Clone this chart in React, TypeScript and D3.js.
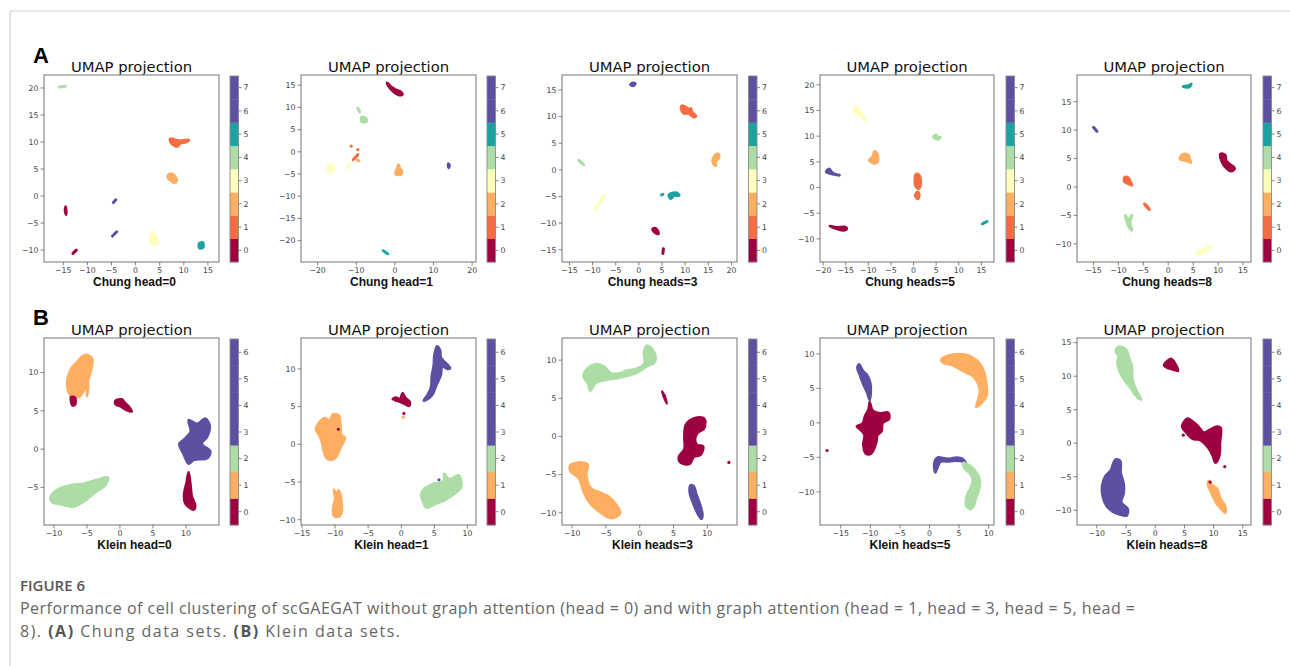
import React from "react";
import * as d3 from "d3";

// ---------- colours ----------
const chungColors = ["#9e0142", "#f46d43", "#fdae61", "#fefebd", "#abdda4", "#1aa3a0", "#5e4fa2", "#5e4fa2"];
const kleinColors = ["#9e0142", "#fdae61", "#abdda4", "#5e4fa2", "#5e4fa2", "#5e4fa2", "#5e4fa2"];

// ---------- panel titles / labels ----------
const xLabels = ["Chung head=0", "Chung head=1", "Chung heads=3", "Chung heads=5", "Chung heads=8",
  "Klein head=0", "Klein head=1", "Klein heads=3", "Klein heads=5", "Klein heads=8"];

// ---------- axis domains & ticks ----------
const xDomains: [number, number][] = [
  [-19, 17.3], [-24.3, 21], [-16.6, 21.2], [-20.7, 17.8], [-18.3, 16.6],
  [-11.5, 15.0], [-15.15, 11.3], [-11.5, 14.4], [-18.5, 10.9], [-13.4, 16.4],
];
const yDomains: [number, number][] = [
  [-12.2, 22.4], [-24.8, 17.3], [-17.3, 17.8], [-14.5, 21.9], [-13.2, 19.7],
  [-9.9, 14.5], [-10.7, 14.1], [-11.6, 12.9], [-14.8, 12.3], [-12.2, 15.7],
];
const xTicks: number[][] = [
  [-15, -10, -5, 0, 5, 10, 15], [-20, -10, 0, 10, 20], [-15, -10, -5, 0, 5, 10, 15, 20],
  [-20, -15, -10, -5, 0, 5, 10, 15], [-15, -10, -5, 0, 5, 10, 15],
  [-10, -5, 0, 5, 10], [-15, -10, -5, 0, 5, 10], [-10, -5, 0, 5, 10],
  [-15, -10, -5, 0, 5, 10], [-10, -5, 0, 5, 10, 15],
];
const yTicks: number[][] = [
  [-10, -5, 0, 5, 10, 15, 20], [-20, -15, -10, -5, 0, 5, 10, 15], [-15, -10, -5, 0, 5, 10, 15],
  [-10, -5, 0, 5, 10, 15, 20], [-10, -5, 0, 5, 10, 15],
  [-5, 0, 5, 10], [-10, -5, 0, 5, 10], [-10, -5, 0, 5, 10],
  [-10, -5, 0, 5, 10], [-10, -5, 0, 5, 10, 15],
];

// ---------- cluster shapes (label, outline points in UMAP coords) ----------
type Cluster = { c: number; p: number[][] };

const chung0: Cluster[] = [
  { c: 4, p: [[-15.8, 20.2], [-14.6, 20.3]] },
  { c: 1, p: [[7.2, 10.6], [8.2, 10.4], [9.3, 10.2], [11, 10.4], [10.5, 10.0], [9.2, 9.8], [8.7, 9.2], [7.8, 9.5], [7.3, 10.0]] },
  { c: 2, p: [[6.8, 3.9], [7.6, 4.1], [8.2, 3.6], [8.5, 2.8], [7.9, 2.5], [7.2, 3.0], [6.7, 3.4]] },
  { c: 6, p: [[-4.6, -1.2], [-4.1, -0.7]] },
  { c: 6, p: [[-4.8, -7.4], [-3.9, -6.6]] },
  { c: 0, p: [[-14.5, -2.0], [-14.6, -2.7], [-14.4, -3.4]] },
  { c: 0, p: [[-13, -10.6], [-12.3, -10.0]] },
  { c: 3, p: [[3.6, -6.7], [4.1, -7.5], [4.5, -8.7], [3.5, -8.8], [3.0, -8.2]] },
  { c: 5, p: [[13.2, -8.8], [13.9, -8.6], [14.0, -9.5], [13.3, -9.6]] },
];
const chung1: Cluster[] = [
  { c: 0, p: [[-2.0, 15.5], [-1.0, 14.6], [0.3, 13.9], [1.6, 13.4], [1.9, 12.9], [0.8, 12.9], [-0.4, 13.6], [-1.6, 14.8]] },
  { c: 4, p: [[-9.6, 9.8], [-9.1, 9.0]] },
  { c: 4, p: [[-8.6, 7.8], [-7.6, 7.6], [-7.3, 6.9], [-8.5, 6.8]] },
  { c: 1, p: [[-11.3, 1.3]] },
  { c: 1, p: [[-9.6, 0.5]] },
  { c: 1, p: [[-10.8, -1.8], [-10.2, -1.2], [-9.5, -0.6]] },
  { c: 2, p: [[-9.7, -1.9], [-9.3, -2.0]] },
  { c: 3, p: [[-17.3, -3.2], [-16.3, -3.0], [-15.9, -3.6], [-16.2, -4.4], [-17.2, -4.3]] },
  { c: 3, p: [[-12.4, -3.7], [-11.6, -2.6]] },
  { c: 2, p: [[0.9, -2.9], [1.2, -3.6], [1.8, -4.4], [1.7, -5.0], [0.2, -5.0], [0.4, -4.2], [0.7, -3.5]] },
  { c: 6, p: [[13.8, -2.7], [14.1, -3.0], [13.9, -3.6]] },
  { c: 5, p: [[-3.1, -22.2], [-2.4, -22.6], [-1.8, -23.0]] },
];
const chung3: Cluster[] = [
  { c: 6, p: [[-1.8, 16.0], [-1.3, 16.3], [-0.8, 16.2], [-1.2, 15.8]] },
  { c: 1, p: [[9.3, 12.0], [10.0, 11.8], [10.8, 11.4], [11.2, 11.5], [11.5, 10.8], [12.3, 10.1], [11.8, 9.9], [10.8, 10.6], [9.8, 10.6], [9.2, 11.3]] },
  { c: 2, p: [[16.9, 3.0], [17.3, 2.8], [17.2, 2.2], [16.6, 1.6], [16.6, 0.8], [16.1, 1.2], [16.0, 2.0]] },
  { c: 4, p: [[-13.0, 1.8], [-12.2, 1.2], [-11.9, 0.9]] },
  { c: 3, p: [[-7.5, -4.7], [-8.4, -5.8], [-9.0, -6.8], [-9.6, -7.2], [-9.2, -7.4], [-8.7, -6.6], [-8.2, -5.8]] },
  { c: 5, p: [[6.5, -4.7], [7.2, -4.4], [8.0, -4.3], [8.7, -4.8], [7.6, -4.8], [6.9, -5.4]] },
  { c: 5, p: [[4.9, -4.7], [5.2, -4.6]] },
  { c: 0, p: [[3.0, -11.1], [3.6, -11.0], [4.0, -11.4], [4.2, -12.0], [3.4, -11.7]] },
  { c: 0, p: [[5.3, -14.8], [5.2, -15.7]] },
];
const chung5: Cluster[] = [
  { c: 3, p: [[-13.2, 15.2], [-12.5, 15.6], [-12.0, 14.9], [-11.2, 14.0], [-10.5, 13.1], [-11.5, 13.8], [-12.6, 14.5]] },
  { c: 4, p: [[4.4, 9.9], [5.0, 10.2], [5.5, 9.6], [5.9, 9.8], [5.4, 9.4]] },
  { c: 2, p: [[-8.6, 7.0], [-8.0, 6.4], [-8.0, 5.0], [-8.6, 4.7], [-9.8, 5.3], [-9.0, 6.0]] },
  { c: 6, p: [[-19.3, 3.0], [-18.7, 3.6], [-18.0, 2.9], [-17.1, 2.5], [-16.4, 2.4]] },
  { c: 1, p: [[0.6, 2.6], [1.3, 2.3], [1.5, 0.5], [1.1, -0.2], [0.4, 0.5]] },
  { c: 1, p: [[0.8, -0.9], [1.2, -1.2], [1.0, -2.2], [0.4, -1.6]] },
  { c: 0, p: [[-18.5, -7.5], [-17.0, -7.8], [-15.3, -7.7], [-14.8, -8.0], [-15.3, -8.3], [-17.0, -8.0]] },
  { c: 5, p: [[15.2, -7.1], [15.8, -6.8], [16.3, -6.6]] },
];
const chung8: Cluster[] = [
  { c: 5, p: [[3.0, 17.7], [4.0, 17.8], [4.6, 18.1], [4.2, 17.6]] },
  { c: 6, p: [[-15.0, 10.5], [-14.6, 10.1], [-14.3, 9.8]] },
  { c: 2, p: [[2.4, 5.2], [3.2, 5.8], [4.0, 5.6], [4.3, 4.9], [4.5, 4.3], [3.4, 4.7], [2.5, 4.8]] },
  { c: 0, p: [[10.5, 5.8], [11.4, 5.6], [11.6, 4.6], [12.5, 3.9], [13.3, 3.3], [12.6, 2.8], [11.6, 3.4], [10.8, 4.4]] },
  { c: 1, p: [[-8.7, 1.7], [-8.0, 1.6], [-7.6, 0.9], [-7.3, 0.3], [-8.3, 0.7], [-8.8, 1.0]] },
  { c: 1, p: [[-4.8, -3.0], [-4.3, -3.3], [-3.8, -4.0]] },
  { c: 4, p: [[-8.6, -5.0], [-8.0, -5.8], [-7.3, -5.0], [-7.7, -6.2], [-7.3, -7.6], [-8.0, -6.8]] },
  { c: 3, p: [[5.8, -11.6], [7.0, -11.0], [8.6, -10.4], [8.0, -10.8], [6.5, -11.9]] },
];
const klein0: Cluster[] = [
  { c: 1, p: [[-5.2, 12.3], [-4.2, 11.8], [-4.5, 9.9], [-5.2, 8.1], [-6.2, 6.8], [-7.5, 7.0], [-8.0, 8.6], [-7.5, 10.3], [-6.5, 11.4]] },
  { c: 1, p: [[-4.9, 9.0], [-4.8, 8.0], [-5.0, 6.9]] },
  { c: 0, p: [[-7.4, 6.8], [-6.8, 6.7], [-6.8, 5.8], [-7.2, 5.7]] },
  { c: 0, p: [[-0.7, 6.3], [0.3, 6.5], [0.8, 6.0], [1.4, 5.5], [1.8, 4.9], [1.0, 5.1], [0.0, 5.6], [-0.6, 5.8]] },
  { c: 3, p: [[10.4, 3.8], [11.7, 3.3], [12.9, 4.0], [13.6, 3.1], [13.2, 1.6], [12.4, 0.7], [13.7, -0.3], [13.2, -1.2], [11.2, -1.4], [10.4, -1.9], [9.6, -0.6], [9.0, 0.7], [9.9, 1.4], [10.7, 2.3]] },
  { c: 0, p: [[10.4, -3.0], [10.7, -4.7], [10.9, -6.2], [11.4, -7.3], [11.2, -7.9], [9.9, -7.1], [9.7, -6.0], [10.1, -4.3]] },
  { c: 2, p: [[-10.5, -6.2], [-9.5, -5.3], [-7.5, -4.7], [-5.5, -4.5], [-3.5, -4.0], [-1.8, -3.7], [-2.2, -4.7], [-3.7, -5.6], [-5.2, -6.7], [-7.0, -7.5], [-9.0, -7.2], [-10.3, -6.9]] },
];
const klein1: Cluster[] = [
  { c: 3, p: [[5.4, 13.0], [5.9, 12.4], [6.0, 11.5], [6.6, 10.9], [7.4, 10.1], [7.0, 10.0], [6.2, 10.3], [6.0, 9.2], [5.3, 7.8], [4.8, 6.7], [4.2, 6.1], [3.4, 5.8], [4.0, 6.6], [4.5, 7.6], [4.6, 9.0], [4.9, 10.5], [5.0, 11.8]] },
  { c: 0, p: [[0.2, 6.8], [0.6, 6.2], [1.3, 5.6], [1.2, 5.1], [0.4, 5.4], [-0.4, 5.7], [-1.3, 6.0], [-0.8, 6.2], [-0.2, 6.0]] },
  { c: 0, p: [[0.4, 4.1]] },
  { c: 1, p: [[0.3, 3.6]] },
  { c: 1, p: [[-12.5, 2.8], [-11.6, 3.5], [-10.8, 3.2], [-10.3, 4.0], [-9.4, 3.8], [-9.2, 2.5], [-9.0, 1.2], [-8.5, 0.9], [-9.1, -0.3], [-9.6, -1.3], [-10.2, -2.0], [-11.2, -1.9], [-11.7, -1.0], [-12.0, 0.3], [-12.4, 1.2], [-12.9, 2.0]] },
  { c: 1, p: [[-10.2, -6.0], [-9.8, -6.6], [-9.5, -6.1], [-9.2, -6.6], [-9.0, -7.8], [-9.0, -9.0], [-9.4, -9.6], [-10.2, -9.5], [-10.3, -8.3], [-10.0, -7.2]] },
  { c: 2, p: [[3.4, -6.0], [5.0, -5.2], [6.4, -4.9], [6.5, -3.9], [7.2, -4.6], [8.7, -4.1], [9.0, -4.6], [9.0, -5.8], [8.0, -6.6], [6.6, -7.4], [5.2, -7.9], [3.8, -8.4], [3.2, -7.4], [3.0, -6.7]] },
  { c: 3, p: [[5.7, -4.7]] },
  { c: 0, p: [[-9.5, 2.0]] },
];
const klein3: Cluster[] = [
  { c: 2, p: [[-8.0, 8.7], [-6.5, 9.5], [-5.3, 9.2], [-4.3, 8.3], [-2.9, 8.3], [-2.0, 8.6], [-0.5, 8.9], [0.7, 9.6], [0.6, 10.9], [1.0, 11.9], [1.7, 11.6], [2.4, 10.3], [2.1, 9.6], [1.3, 9.3], [-0.5, 8.3], [-2.0, 7.9], [-3.5, 7.6], [-5.0, 7.4], [-6.5, 7.0], [-7.3, 6.0], [-7.7, 7.0], [-8.3, 7.8]] },
  { c: 0, p: [[3.3, 5.9], [3.7, 5.3], [4.0, 4.3]] },
  { c: 0, p: [[6.8, 1.5], [7.4, 2.1], [8.5, 2.5], [9.6, 2.3], [9.5, 1.0], [8.6, 0.5], [8.2, -0.3], [8.5, -1.1], [9.4, -1.3], [9.0, -2.4], [8.0, -2.7], [7.4, -3.6], [6.0, -3.4], [5.8, -2.6], [6.6, -1.7], [6.6, 0.0]] },
  { c: 0, p: [[13.2, -3.4]] },
  { c: 1, p: [[-10.3, -3.8], [-8.5, -3.4], [-7.7, -3.7], [-7.9, -5.0], [-7.2, -6.8], [-6.0, -7.3], [-4.7, -7.8], [-3.4, -9.0], [-2.9, -10.1], [-4.2, -10.7], [-5.6, -10.1], [-7.3, -8.8], [-8.3, -7.3], [-9.0, -5.5], [-10.2, -4.6]] },
  { c: 3, p: [[7.5, -6.4], [8.0, -6.5], [8.4, -7.6], [8.9, -8.8], [9.3, -10.3], [9.1, -10.8], [8.4, -9.8], [7.8, -8.5], [7.4, -7.4]] },
];
const klein5: Cluster[] = [
  { c: 3, p: [[-11.9, 8.5], [-11.2, 7.5], [-10.6, 7.0], [-10.0, 5.8], [-9.9, 4.8], [-10.1, 3.3], [-10.6, 4.5], [-11.3, 5.8], [-11.8, 7.0], [-12.2, 8.0]] },
  { c: 0, p: [[-10.1, 3.0], [-9.6, 1.8], [-8.4, 1.4], [-7.0, 1.5], [-6.8, 0.6], [-7.9, 0.0], [-8.1, -1.2], [-8.8, -1.8], [-9.0, -2.9], [-9.8, -4.4], [-10.7, -4.5], [-11.2, -3.2], [-11.0, -1.7], [-11.8, -0.9], [-12.3, -0.5], [-11.3, -0.1], [-10.9, 1.0], [-10.3, 2.0]] },
  { c: 0, p: [[-17.3, -4.0]] },
  { c: 1, p: [[2.0, 9.2], [4.0, 9.9], [6.8, 9.7], [8.8, 8.2], [9.6, 5.8], [9.6, 3.8], [7.9, 2.3], [8.2, 3.3], [8.5, 4.8], [7.4, 6.7], [5.7, 7.5], [3.7, 8.4], [2.3, 8.7]] },
  { c: 3, p: [[0.9, -5.5], [1.4, -5.0], [2.4, -5.1], [3.4, -5.2], [4.6, -5.0], [5.6, -5.2], [6.2, -5.9], [5.6, -5.6], [4.4, -5.5], [3.0, -5.6], [1.9, -5.6], [1.4, -6.4], [1.0, -7.2], [0.8, -6.6]] },
  { c: 2, p: [[5.7, -5.8], [6.8, -6.2], [7.8, -7.0], [8.5, -8.2], [8.4, -9.6], [7.9, -10.8], [7.5, -12.0], [7.0, -12.5], [6.2, -12.0], [6.3, -10.5], [6.9, -9.5], [7.3, -8.4], [6.9, -7.4], [5.9, -6.6]] },
];
const klein8: Cluster[] = [
  { c: 2, p: [[-6.8, 13.7], [-6.3, 14.4], [-5.0, 14.0], [-4.5, 12.8], [-4.0, 11.6], [-3.9, 9.6], [-3.3, 8.0], [-2.4, 6.5], [-3.2, 7.0], [-4.2, 8.2], [-5.2, 9.3], [-6.0, 10.5], [-6.5, 12.0], [-6.3, 13.0]] },
  { c: 0, p: [[1.5, 11.6], [2.7, 12.6], [3.2, 12.2], [3.9, 10.8], [3.0, 11.0], [2.2, 11.2]] },
  { c: 0, p: [[4.6, 2.5], [5.5, 3.7], [6.3, 3.3], [7.3, 2.6], [8.3, 1.6], [9.3, 2.0], [10.6, 2.5], [11.2, 2.3], [11.1, 0.0], [11.0, -1.8], [10.3, -2.9], [9.8, -1.8], [9.0, -0.6], [7.6, 0.5], [6.5, 0.6], [5.3, 1.6]] },
  { c: 0, p: [[4.8, 1.2]] },
  { c: 0, p: [[11.9, -3.5]] },
  { c: 3, p: [[-6.8, -2.4], [-6.0, -2.6], [-5.9, -4.4], [-5.4, -6.0], [-5.4, -7.5], [-5.8, -8.8], [-4.7, -9.8], [-4.9, -10.8], [-6.2, -10.6], [-7.3, -10.2], [-8.4, -9.3], [-9.0, -8.0], [-9.1, -6.3], [-8.6, -5.0], [-7.6, -4.0], [-7.2, -3.0]] },
  { c: 1, p: [[9.2, -5.6], [9.8, -6.3], [10.6, -6.8], [11.2, -8.3], [12.0, -9.4], [12.0, -10.4], [11.3, -9.8], [10.5, -9.0], [9.9, -8.0], [9.4, -7.0], [9.0, -6.2]] },
  { c: 0, p: [[9.4, -5.8]] },
];

const clusterSets: Cluster[][] = [chung0, chung1, chung3, chung5, chung8, klein0, klein1, klein3, klein5, klein8];

const captionLine1 = "Performance of cell clustering of scGAEGAT without graph attention (head = 0) and with graph attention (head = 1, head = 3, head = 5, head =";

// ---------- layout ----------
const colLeft = [44, 301, 562, 820, 1077];
const colRight = [219, 476, 737, 994, 1251];
const rowTop = [75, 338];
const rowBottom = [262, 525];
const cbLeft = [230, 487, 748.5, 1006, 1263];
const cbWidth = 8.5;

const fmt = d3.format("d");

function Panel({ idx }: { idx: number }) {
  const col = idx % 5;
  const row = Math.floor(idx / 5);
  const L = colLeft[col], R = colRight[col], T = rowTop[row], B = rowBottom[row];
  const x = d3.scaleLinear().domain(xDomains[idx]).range([L, R]);
  const y = d3.scaleLinear().domain(yDomains[idx]).range([B, T]);
  const colors = row === 0 ? chungColors : kleinColors;
  const nCls = colors.length;
  const cy = d3.scaleLinear().domain([-0.5, nCls - 0.5]).range([B, T + 1]);
  const line = d3.line<number[]>().x((d) => x(d[0])).y((d) => y(d[1])).curve(d3.curveCatmullRomClosed.alpha(0.5));
  const clipId = `clip${idx}`;
  const cbL = cbLeft[col];
  const tickColor = "#444";
  return (
    <g>
      <clipPath id={clipId}><rect x={L} y={T} width={R - L} height={B - T} /></clipPath>
      <text x={(L + R) / 2} y={T - 3.5} textAnchor="middle" fontFamily="DejaVu Sans" fontSize={14.8} fill="#111">UMAP projection</text>
      <g clipPath={`url(#${clipId})`}>
        {clusterSets[idx].map((cl, i) =>
          cl.p.length === 1 ? (
            <circle key={i} cx={x(cl.p[0][0])} cy={y(cl.p[0][1])} r={1.6} fill={colors[cl.c]} />
          ) : (
            <path key={i} d={line(cl.p) || ""} fill={colors[cl.c]} stroke={colors[cl.c]} strokeWidth={row === 0 ? 3 : 2.5} strokeLinejoin="round" strokeLinecap="round" />
          )
        )}
      </g>
      <rect x={L} y={T} width={R - L} height={B - T} fill="none" stroke="#8a8a8a" strokeWidth={1.2} />
      {xTicks[idx].map((t) => (
        <g key={"x" + t}>
          <line x1={x(t)} x2={x(t)} y1={B} y2={B + 3.5} stroke="#666" strokeWidth={0.8} />
          <text x={x(t)} y={B + 11} textAnchor="middle" fontFamily="DejaVu Sans" fontSize={7.8} fill={tickColor}>{fmt(t)}</text>
        </g>
      ))}
      {yTicks[idx].map((t) => (
        <g key={"y" + t}>
          <line x1={L - 3.5} x2={L} y1={y(t)} y2={y(t)} stroke="#666" strokeWidth={0.8} />
          <text x={L - 5.5} y={y(t) + 2.8} textAnchor="end" fontFamily="DejaVu Sans" fontSize={7.8} fill={tickColor}>{fmt(t)}</text>
        </g>
      ))}
      <text x={(L + R) / 2 + 3} y={B + 24} textAnchor="middle" fontFamily="Liberation Sans" fontWeight="bold" fontSize={12} fill="#111">{xLabels[idx]}</text>
      {colors.map((c, i) => (
        <rect key={"cb" + i} x={cbL} y={cy(i + 0.5)} width={cbWidth} height={cy(i - 0.5) - cy(i + 0.5) + 0.3} fill={c} />
      ))}
      <rect x={cbL} y={T + 1} width={cbWidth} height={B - T - 1} fill="none" stroke="#8a8a8a" strokeWidth={0.9} />
      {colors.map((_, i) => (
        <g key={"cbt" + i}>
          <line x1={cbL + cbWidth} x2={cbL + cbWidth + 3} y1={cy(i)} y2={cy(i)} stroke="#666" strokeWidth={0.8} />
          <text x={cbL + cbWidth + 5} y={cy(i) + 2.8} fontFamily="DejaVu Sans" fontSize={7.8} fill={tickColor}>{i}</text>
        </g>
      ))}
    </g>
  );
}

export default function App() {
  return (
    <svg width={1290} height={666} style={{ position: "absolute", left: 0, top: 0, background: "#fff" }}>
      <rect x={0} y={0} width={1290} height={666} fill="#fff" />
      <line x1={10} x2={1290} y1={11} y2={11} stroke="#cfcfcf" strokeWidth={1.2} />
      <line x1={10} x2={10} y1={11} y2={666} stroke="#cfcfcf" strokeWidth={1.2} />
      <text x={33} y={63} fontFamily="Liberation Sans" fontWeight="bold" fontSize={22} fill="#000">A</text>
      <text x={33} y={325} fontFamily="Liberation Sans" fontWeight="bold" fontSize={22} fill="#000">B</text>
      {clusterSets.map((_, i) => <Panel key={i} idx={i} />)}
      <text x={20} y={591} fontFamily="Open Sans" fontSize={15} fontWeight={600} fill="#555">FIGURE 6</text>
      <text x={20} y={614} fontFamily="Open Sans" fontSize={16} fill="#666" textLength={1115} lengthAdjust="spacing">{captionLine1}</text>
      <text x={20} y={637} fontFamily="Open Sans" fontSize={16} fill="#666" textLength={380} lengthAdjust="spacing">
        <tspan>8). </tspan>
        <tspan fontWeight="bold" fill="#555">(A)</tspan>
        <tspan> Chung data sets. </tspan>
        <tspan fontWeight="bold" fill="#555">(B)</tspan>
        <tspan> Klein data sets.</tspan>
      </text>
    </svg>
  );
}
